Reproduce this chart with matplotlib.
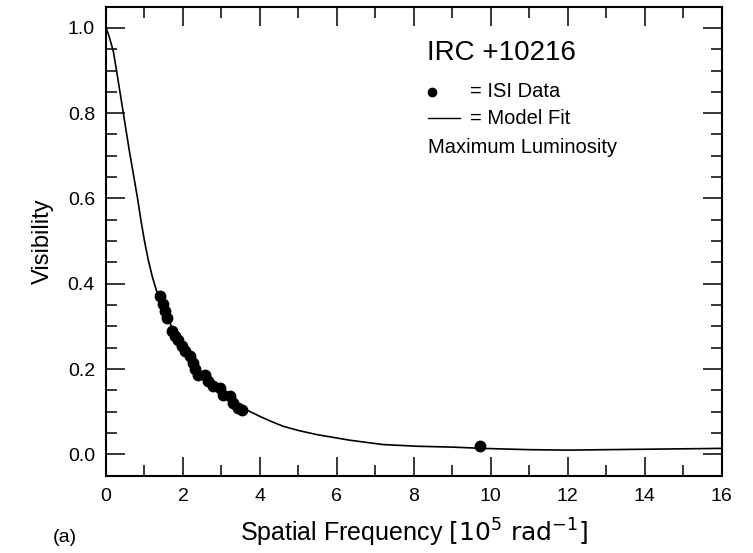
import matplotlib
matplotlib.use("Agg")
import matplotlib.pyplot as plt
from matplotlib.ticker import MultipleLocator

# Model fit curve
model_freq = [0.0, 0.08, 0.19, 0.3, 0.45, 0.6, 0.82, 0.9, 1.0, 1.1, 1.2, 1.3,
              1.4, 1.5, 1.75, 2.0, 2.25, 2.5, 2.75, 3.0, 3.25, 3.5, 3.75, 4.0,
              4.3, 4.6, 5.0, 5.5, 6.35, 7.2, 8.1, 9.0, 9.8, 11.0, 12.0, 13.0,
              14.0, 15.0, 16.0]
model_vis = [1.0, 0.98, 0.945, 0.885, 0.80, 0.715, 0.60, 0.553, 0.50, 0.455,
             0.418, 0.387, 0.362, 0.34, 0.29, 0.25, 0.215, 0.19, 0.165, 0.148,
             0.13, 0.112, 0.100, 0.089, 0.077, 0.066, 0.056, 0.046, 0.033,
             0.023, 0.019, 0.017, 0.014, 0.011, 0.010, 0.011, 0.012, 0.013,
             0.014]

# ISI data points
isi_freq = [1.40, 1.47, 1.53, 1.58, 1.71, 1.79, 1.88, 1.97, 2.05, 2.18, 2.27,
            2.31, 2.40, 2.57, 2.66, 2.79, 2.96, 3.05, 3.23, 3.31, 3.44, 3.53,
            9.73]
isi_vis = [0.371, 0.352, 0.336, 0.320, 0.289, 0.277, 0.269, 0.254, 0.242, 0.230,
           0.215, 0.199, 0.187, 0.187, 0.171, 0.160, 0.156, 0.140, 0.136, 0.121,
           0.109, 0.105, 0.020]

plt.rcParams['font.family'] = ['Liberation Sans', 'DejaVu Sans']

fig = plt.figure(figsize=(7.53, 5.53), dpi=100)
ax = fig.add_axes([0.1408, 0.1398, 0.8174, 0.8484])

ax.plot(model_freq, model_vis, color='black', lw=1.2)
ax.plot(isi_freq, isi_vis, 'o', color='black', ms=7.5)

ax.set_xlim(0, 16)
ax.set_ylim(-0.05, 1.05)
ax.xaxis.set_major_locator(MultipleLocator(2))
ax.xaxis.set_minor_locator(MultipleLocator(1))
ax.yaxis.set_major_locator(MultipleLocator(0.2))
ax.yaxis.set_minor_locator(MultipleLocator(0.05))
ax.yaxis.set_major_formatter(plt.FormatStrFormatter('%.1f'))

ax.tick_params(which='both', direction='in', top=True, right=True, width=1.1)
ax.tick_params(which='major', length=14)
ax.tick_params(which='minor', length=8)
ax.tick_params(axis='x', labelsize=14, pad=9)
ax.tick_params(axis='y', labelsize=14, pad=8)
for s in ax.spines.values():
    s.set_linewidth(1.5)

ax.set_ylabel('Visibility', fontsize=17, labelpad=10)
ax.set_xlabel(r'Spatial Frequency $\left[10^5\ \mathrm{rad}^{-1}\right]$', fontsize=18, labelpad=8)
fig.text(0.086, 0.028, '(a)', fontsize=14, ha='center', va='center')

# legend block, written as text
ax.text(0.5215, 0.901, 'IRC +10216', transform=ax.transAxes, fontsize=20, va='center')
ax.plot([0.529], [0.818], 'o', color='black', ms=6, transform=ax.transAxes)
ax.text(0.591, 0.818, '= ISI Data', transform=ax.transAxes, fontsize=14.5, va='center')
ax.plot([0.523, 0.575], [0.762, 0.762], color='black', lw=1, transform=ax.transAxes)
ax.text(0.591, 0.762, '= Model Fit', transform=ax.transAxes, fontsize=14.5, va='center')
ax.text(0.523, 0.7005, 'Maximum Luminosity', transform=ax.transAxes, fontsize=14.5, va='center')

fig.savefig('out.png', dpi=100)
